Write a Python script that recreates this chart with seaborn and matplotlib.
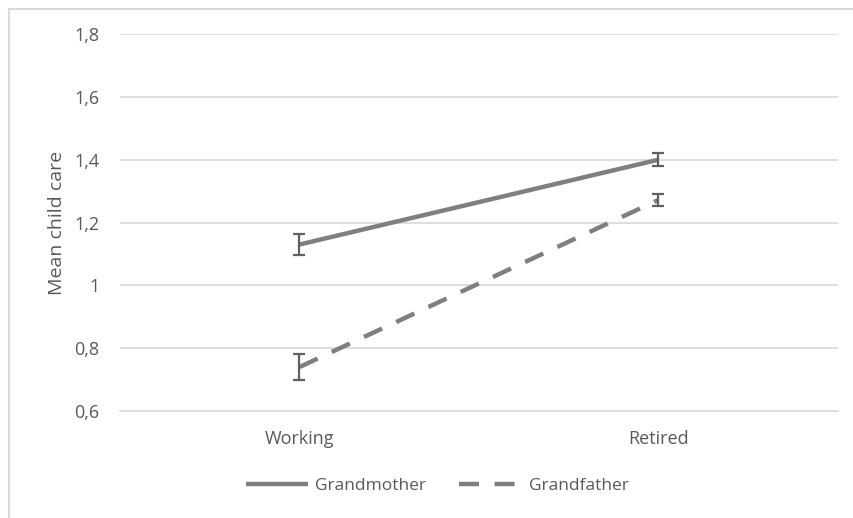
import matplotlib
matplotlib.use("Agg")
import matplotlib.pyplot as plt
import seaborn as sns
import pandas as pd
from matplotlib.patches import Rectangle

# Mean child care by employment status and grandparent
status = ["Working", "Retired"]
grandmother = [1.13, 1.40]
grandmother_err = [0.033, 0.02]
grandfather = [0.74, 1.272]
grandfather_err = [0.04, 0.018]
groups = ["Grandmother", "Grandfather"]
yticks = [0.6, 0.8, 1.0, 1.2, 1.4, 1.6, 1.8]
ytick_labels = ["0,6", "0,8", "1", "1,2", "1,4", "1,6", "1,8"]

df = pd.DataFrame({
    "status": status * 2,
    "pos": [0, 1, 0, 1],
    "value": grandmother + grandfather,
    "err": grandmother_err + grandfather_err,
    "group": [groups[0]] * 2 + [groups[1]] * 2,
})

sns.set_theme(style="white")
plt.rcParams["font.family"] = ["Open Sans", "DejaVu Sans"]
text_color = "#595959"
line_color = "#7f7f7f"
grid_color = "#d9d9d9"

fig = plt.figure(figsize=(8.54, 5.18), dpi=100)
ax = fig.add_axes([120 / 854, 1 - 411 / 518, (838 - 120) / 854, (411 - 34) / 518])

sns.lineplot(
    data=df, x="pos", y="value", style="group", style_order=groups,
    dashes={groups[0]: "", groups[1]: (4.5, 3.5)},
    color=line_color, linewidth=3.2, ax=ax, legend=True,
    dash_capstyle="butt", solid_capstyle="butt",
)

for g in groups:
    sub = df[df["group"] == g]
    ax.errorbar(sub["pos"], sub["value"], yerr=sub["err"], fmt="none",
                ecolor="#606060", elinewidth=1.6, capsize=4, capthick=1.6,
                zorder=3)

ax.set_xlim(-0.5, 1.5)
ax.set_ylim(0.6, 1.8)
ax.set_xticks([0, 1])
ax.set_xticklabels(status)
ax.set_yticks(yticks)
ax.set_yticklabels(ytick_labels)
ax.tick_params(axis="both", colors=text_color, labelsize=13, length=0)
ax.tick_params(axis="x", pad=14)
ax.tick_params(axis="y", pad=15)
ax.grid(axis="y", color=grid_color, linewidth=1.2)
ax.set_axisbelow(True)
for s in ["top", "right", "left"]:
    ax.spines[s].set_visible(False)
ax.spines["bottom"].set_color(grid_color)
ax.spines["bottom"].set_linewidth(1.2)
ax.set_xlabel("")
ax.set_ylabel("Mean child care", color=text_color, fontsize=14, labelpad=6)

handles, labels = ax.get_legend_handles_labels()
ax.legend_.remove()
leg = fig.legend(handles, labels, loc="center", bbox_to_anchor=(0.512, 0.062),
                 ncol=2, frameon=False, fontsize=12.5, handlelength=3.6,
                 columnspacing=1.9, handletextpad=0.4)
for t in leg.get_texts():
    t.set_color(text_color)
for h in leg.legend_handles:
    h.set_linewidth(3.2)

# chart area frame
fig.patches.append(Rectangle((9 / 854, -0.1), 1.1, 1 - 8.5 / 518 + 0.1,
                             transform=fig.transFigure, fill=False,
                             edgecolor="#d9d9d9", linewidth=1.5))

fig.savefig("out.png", dpi=100)
